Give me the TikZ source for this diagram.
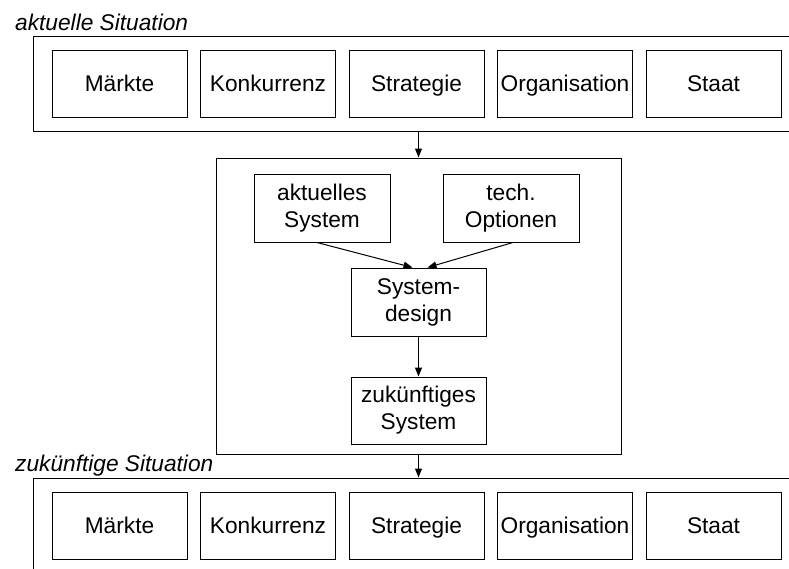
\documentclass[tikz,border=0pt]{standalone}
\usepackage{fontspec}
\setmainfont{Liberation Sans}
\usetikzlibrary{arrows.meta,calc}
\begin{document}
\begin{tikzpicture}[x=1pt,y=-1pt,
  box/.style={draw,line width=1pt,minimum width=135pt,minimum height=67pt,inner sep=0pt,align=center,font=\fontsize{22.7}{27}\selectfont},
  rowbox/.style={box,text height=16.3pt,text depth=0pt},
  frame/.style={draw,line width=1pt,inner sep=0pt},
  title/.style={font=\fontsize{22.7}{27}\selectfont\itshape,anchor=base west,inner sep=0pt},
  arr/.style={-{Triangle[length=9pt,width=7pt]},line width=1pt}]
\useasboundingbox (0,0) rectangle (789,568);
\clip (0,0) rectangle (789,568);
% top situation
\node[title] (t1) at (15,30.5) {aktuelle Situation};
\node[frame,minimum width=767pt,minimum height=95pt] (topf) at (416.5,83.5) {};
\node[rowbox] (m1) at (119.5,83.5) {Märkte};
\node[rowbox] (k1) at (268,83.5) {Konkurrenz};
\node[rowbox] (s1) at (416.5,83.5) {Strategie};
\node[rowbox] (o1) at (565,83.5) {Organisation};
\node[rowbox] (st1) at (713.5,83.5) {Staat};
% middle
\node[frame,minimum width=405pt,minimum height=296pt] (mid) at (418.5,306) {};
\node[box,minimum width=136pt,minimum height=68pt] (as) at (322,208) {aktuelles\\System};
\node[box,minimum width=136pt,minimum height=68pt] (to) at (511,208) {tech.\\Optionen};
\node[box,minimum height=68pt] (sd) at (418.5,302) {System-\\design};
\node[box,minimum height=67pt] (zs) at (418.5,410.5) {zukünftiges\\System};
% bottom situation
\node[title] (t2) at (15,471.5) {zukünftige Situation};
\node[frame,minimum width=767pt,minimum height=102pt] (botf) at (416.5,529) {};
\node[rowbox] (m2) at (119.5,525.5) {Märkte};
\node[rowbox] (k2) at (268,525.5) {Konkurrenz};
\node[rowbox] (s2) at (416.5,525.5) {Strategie};
\node[rowbox] (o2) at (565,525.5) {Organisation};
\node[rowbox] (st2) at (713.5,525.5) {Staat};
% arrows
\draw[arr] (mid.north |- topf.south) -- (mid.north);
\draw[arr] ([xshift=-5pt]as.south) -- ([xshift=-6pt]sd.north);
\draw[arr] ([xshift=2pt]to.south) -- ([xshift=9pt]sd.north);
\draw[arr] (sd.south) -- (zs.north);
\draw[arr] (mid.south) -- (mid.south |- botf.north);
\end{tikzpicture}
\end{document}
